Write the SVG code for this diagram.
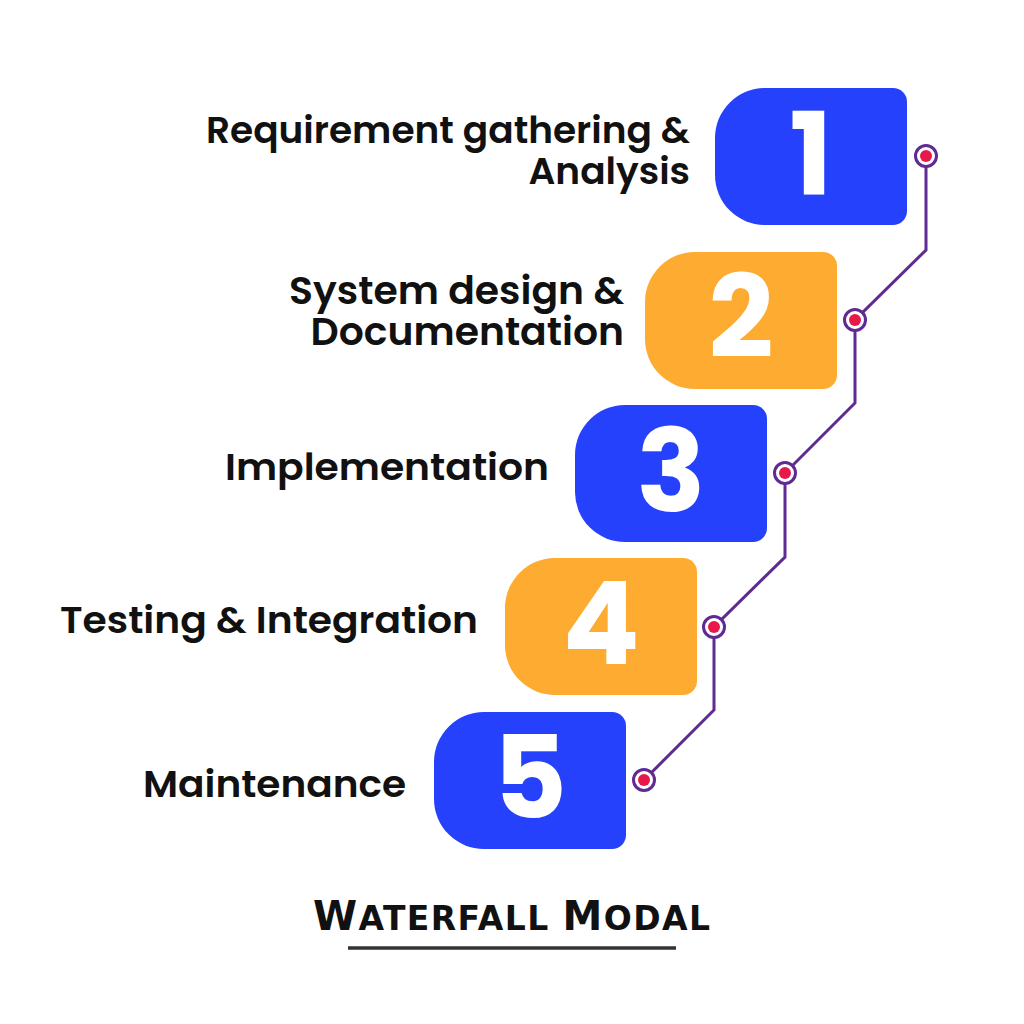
<svg xmlns="http://www.w3.org/2000/svg" width="1024" height="1024" viewBox="0 0 1024 1024">
<style>
.lbl{font-family:Poppins,Inter,"Open Sans",sans-serif;font-weight:600;font-size:37.5px;fill:#111;text-anchor:end}
.num{font-family:Poppins,Inter,"Open Sans",sans-serif;font-weight:700;font-size:114px;fill:#fff;text-anchor:middle}
.blue{fill:#2541fc}
.orange{fill:#fdab31}
.conn{fill:none;stroke:#5f2b92;stroke-width:3;stroke-linejoin:miter}
.ring{fill:#fff;stroke:#5f2b92;stroke-width:3}
.dot{fill:#e8194a}
.title{font-family:"DejaVu Sans",sans-serif;font-weight:bold;fill:#111}
</style>
<defs>
<path id="box" d="M50,0 H178 A14,14 0 0 1 192,14 V123 A14,14 0 0 1 178,137 H50 A50,50 0 0 1 0,87 V50 A50,50 0 0 1 50,0 Z"/>
</defs>
<rect width="1024" height="1024" fill="#fff"/>
<g id="connectors">
<polyline class="conn" points="926,156 926,250 855,320 855,403 785,473 785,557 714,627 714,710 644,780"/>
</g>
<g id="step1">
<use href="#box" class="blue" x="715" y="88"/>
<text class="num" x="811" y="195">1</text>
<text class="lbl"><tspan x="690" y="143">Requirement gathering &amp;</tspan><tspan x="690" y="184">Analysis</tspan></text>
<circle class="ring" cx="926" cy="156" r="10.5"/><circle class="dot" cx="926" cy="156" r="6"/>
</g>
<g id="step2">
<use href="#box" class="orange" x="645" y="252"/>
<text class="num" x="741" y="357">2</text>
<text class="lbl" style="font-size:39.3px"><tspan x="624" y="304">System design &amp;</tspan><tspan x="624" y="345">Documentation</tspan></text>
<circle class="ring" cx="855" cy="320" r="10.5"/><circle class="dot" cx="855" cy="320" r="6"/>
</g>
<g id="step3">
<use href="#box" class="blue" x="575" y="405"/>
<text class="num" x="671" y="511">3</text>
<text class="lbl" x="549" y="480" textLength="324" lengthAdjust="spacingAndGlyphs">Implementation</text>
<circle class="ring" cx="785" cy="473" r="10.5"/><circle class="dot" cx="785" cy="473" r="6"/>
</g>
<g id="step4">
<use href="#box" class="orange" x="505" y="558"/>
<text class="num" x="601" y="664">4</text>
<text class="lbl" x="478" y="633" textLength="418" lengthAdjust="spacingAndGlyphs">Testing &amp; Integration</text>
<circle class="ring" cx="714" cy="627" r="10.5"/><circle class="dot" cx="714" cy="627" r="6"/>
</g>
<g id="step5">
<use href="#box" class="blue" x="434" y="712"/>
<text class="num" x="530" y="818">5</text>
<text class="lbl" x="406" y="797" textLength="263" lengthAdjust="spacingAndGlyphs">Maintenance</text>
<circle class="ring" cx="644" cy="780" r="10.5"/><circle class="dot" cx="644" cy="780" r="6"/>
</g>
<g id="title">
<text class="title" x="313" y="930" textLength="399" lengthAdjust="spacing" letter-spacing="2"><tspan font-size="40">W</tspan><tspan font-size="33">ATERFALL </tspan><tspan font-size="40">M</tspan><tspan font-size="33">ODAL</tspan></text>
<line x1="348" y1="948" x2="676" y2="948" stroke="#333" stroke-width="3.5"/>
</g>
</svg>
